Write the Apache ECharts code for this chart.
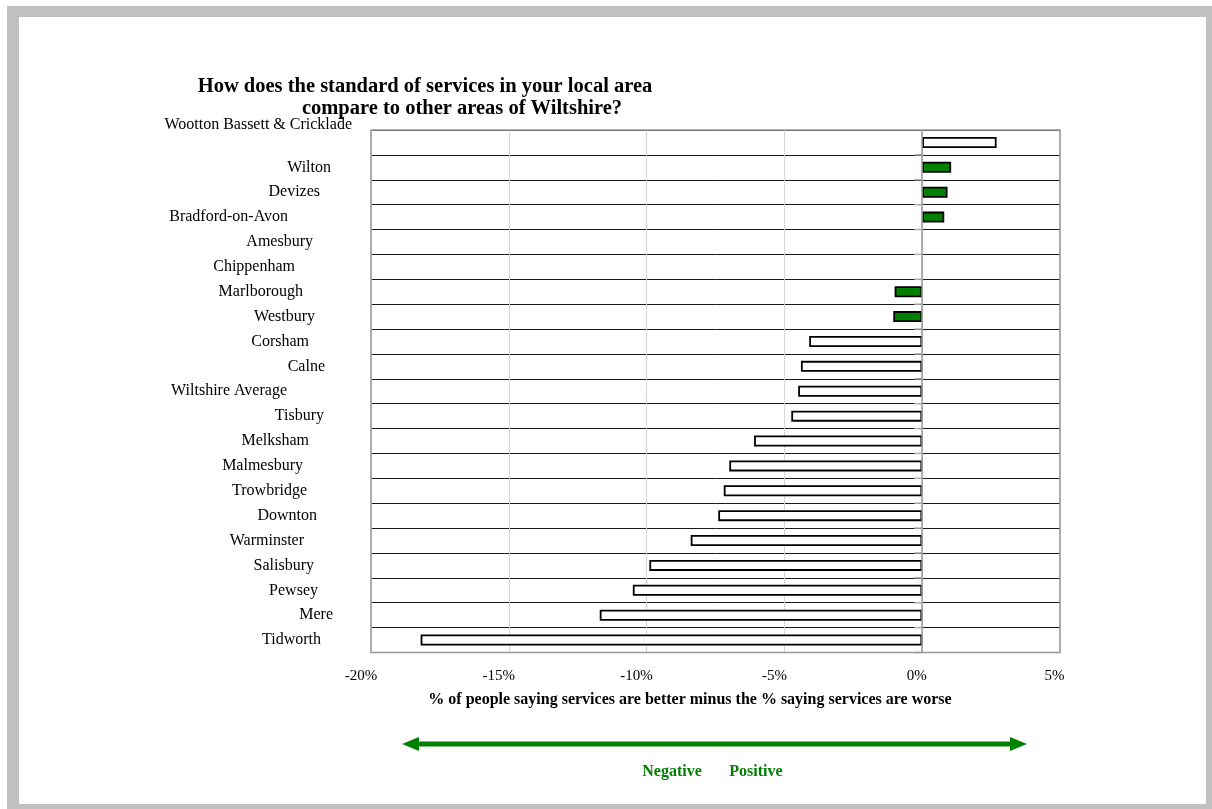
<!DOCTYPE html>
<html><head><meta charset="utf-8">
<script src="https://cdn.jsdelivr.net/npm/echarts@6/dist/echarts.min.js"></script>
<style>html,body{margin:0;padding:0;background:#fff}#c{width:1212px;height:809px}</style>
</head><body><div id="c"></div><script>
// ---- data ----
const categories = ['Wootton Bassett & Cricklade','Wilton','Devizes','Bradford-on-Avon','Amesbury','Chippenham','Marlborough','Westbury','Corsham','Calne','Wiltshire Average','Tisbury','Melksham','Malmesbury','Trowbridge','Downton','Warminster','Salisbury','Pewsey','Mere','Tidworth'];
const values = [2.7, 1.05, 0.92, 0.8, 0, 0, -1.0, -1.05, -4.1, -4.4, -4.5, -4.75, -6.1, -7.0, -7.2, -7.4, -8.4, -9.9, -10.5, -11.7, -18.2];
const highlighted = [false, true, true, true, false, false, true, true, false, false, false, false, false, false, false, false, false, false, false, false, false];
const xMin = -20, xMax = 5, xStep = 5;
const titleLines = ['How does the standard of services in your local area', 'compare to other areas of Wiltshire?'];
const xAxisTitle = '% of people saying services are better minus the % saying services are worse';
const legendWords = ['Negative', 'Positive'];

// ---- styling (label offsets, not data) ----
const labelGap = [19, 40, 51, 83, 58, 76, 68, 56, 62, 46, 84, 47, 62, 68, 64, 54, 67, 57, 53, 38, 50];
const labelRaised = [true, false, false, false, false, false, false, false, false, false, false, false, false, false, false, false, false, false, false, false, false];
const serif = "'Liberation Serif','Times New Roman',serif";
const G = {left: 371, top: 130, width: 689, height: 522.5};

const chart = echarts.init(document.getElementById('c'), null, {renderer: 'canvas'});
chart.setOption({
  backgroundColor: '#fff',
  animation: false,
  grid: {left: G.left, top: G.top, width: G.width, height: G.height, show: false, containLabel: false},
  xAxis: {
    type: 'value', min: xMin, max: xMax, interval: xStep,
    axisLine: {show: false}, axisTick: {show: false},
    axisLabel: {
      formatter: v => (v < 0 ? '{neg|' : '{pos|') + v + '%}',
      color: '#000', fontFamily: serif, fontSize: 15, margin: 16,
      rich: {
        neg: {fontFamily: serif, fontSize: 15, color: '#000', padding: [0, 20, 0, 0]},
        pos: {fontFamily: serif, fontSize: 15, color: '#000', padding: [0, 11, 0, 0]}
      }
    },
    splitLine: {show: true, lineStyle: {color: '#d4d4d4', width: 1}}
  },
  yAxis: {
    type: 'category', inverse: true,
    data: categories.map((c, i) => ({value: c, textStyle: labelRaised[i] ? {padding: [0, labelGap[i], 0, 0], lineHeight: 36} : {padding: [0, labelGap[i], 0, 0]}})),
    axisLine: {show: false}, axisTick: {show: false},
    axisLabel: {
      interval: 0, margin: 0, color: '#000', fontFamily: serif, fontSize: 16,
      formatter: (v, i) => labelRaised[i] ? v + '\n\u00a0' : v
    },
    splitLine: {show: true, interval: 0, lineStyle: {color: '#1a1a1a', width: 1}}
  },
  series: [{
    type: 'bar', barWidth: 11, z: 3,
    data: values.map((v, i) => ({value: v, itemStyle: {color: highlighted[i] ? '#008000' : '#ffffff', borderColor: '#000', borderWidth: v === 0 ? 0 : 1.8}})),
    markLine: {silent: true, symbol: 'none', label: {show: false}, lineStyle: {color: '#999', type: 'solid', width: 1.5}, data: [{xAxis: 0}]}
  }, {
    // small gray tick stubs of the category axis crossing at 0
    type: 'custom', z: 4, silent: true,
    data: categories.map(c => [0, c]),
    encode: {x: 0, y: 1},
    renderItem: (params, api) => {
      const p = api.coord([api.value(0), api.value(1)]);
      const h = api.size([0, 1])[1];
      return {type: 'line', shape: {x1: p[0] - 8, y1: p[1] + h / 2, x2: p[0], y2: p[1] + h / 2}, style: {stroke: '#aaa', lineWidth: 1.5}};
    }
  }],
  graphic: [
    {type: 'rect', z: -10, shape: {x: 7, y: 6, width: 1205, height: 803}, style: {fill: '#c0c0c0'}},
    {type: 'rect', z: -9, shape: {x: 19, y: 17, width: 1187, height: 787}, style: {fill: '#ffffff'}},
    {type: 'rect', z: 100, shape: {x: G.left, y: G.top, width: G.width, height: G.height}, style: {fill: 'none', stroke: '#999', lineWidth: 1.5}},
    {type: 'text', z: 100, x: 425, y: 87, style: {text: titleLines[0], fill: '#000', font: 'bold 20.5px ' + serif, align: 'center', verticalAlign: 'middle'}},
    {type: 'text', z: 100, x: 462, y: 109, style: {text: titleLines[1], fill: '#000', font: 'bold 20.5px ' + serif, align: 'center', verticalAlign: 'middle'}},
    {type: 'text', z: 100, x: 690, y: 700, style: {text: xAxisTitle, fill: '#000', font: 'bold 16px ' + serif, align: 'center', verticalAlign: 'middle'}},
    {type: 'line', z: 100, shape: {x1: 414, y1: 744, x2: 1015, y2: 744}, style: {stroke: '#008000', lineWidth: 5}},
    {type: 'polygon', z: 100, shape: {points: [[402, 744], [419, 737], [419, 751]]}, style: {fill: '#008000'}},
    {type: 'polygon', z: 100, shape: {points: [[1027, 744], [1010, 737], [1010, 751]]}, style: {fill: '#008000'}},
    {type: 'text', z: 100, x: 672, y: 772, style: {text: legendWords[0], fill: '#008000', font: 'bold 16px ' + serif, align: 'center', verticalAlign: 'middle'}},
    {type: 'text', z: 100, x: 756, y: 772, style: {text: legendWords[1], fill: '#008000', font: 'bold 16px ' + serif, align: 'center', verticalAlign: 'middle'}}
  ]
});
</script></body></html>
